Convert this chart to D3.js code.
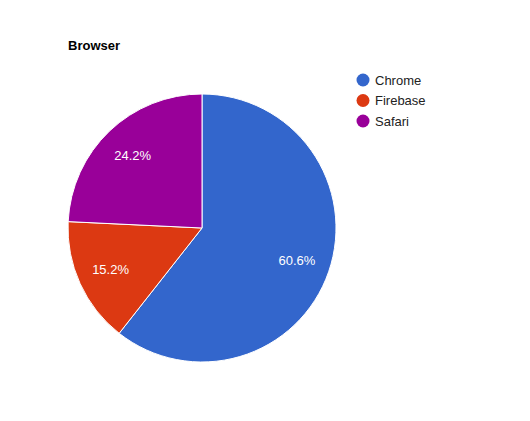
<!DOCTYPE html>
<html><head><meta charset="utf-8">
<script src="https://cdn.jsdelivr.net/npm/d3@7"></script>
<style>body{margin:0;background:#fff}svg{display:block}</style>
</head><body>
<svg id="c" width="530" height="421"></svg>
<script>
const categories = ["Chrome", "Firebase", "Safari"];
const values = [20, 5, 8];
const colors = ["#3366cc", "#dc3912", "#990099"];
const title = "Browser";

const svg = d3.select("#c");
const cx = 202, cy = 228, r = 134;
const font = "Arial, 'Liberation Sans', sans-serif";

svg.append("text").attr("x", 68).attr("y", 50)
  .attr("font-family", font).attr("font-size", 13).attr("font-weight", "bold")
  .attr("fill", "#000").text(title);

const pie = d3.pie().sort(null).value(d => d)(values);
const arc = d3.arc().innerRadius(0).outerRadius(r);
const labelArc = d3.arc().innerRadius(r * 0.75).outerRadius(r * 0.75);
const total = d3.sum(values);
const color = d3.scaleOrdinal().domain(categories).range(colors);

const g = svg.append("g").attr("transform", `translate(${cx},${cy})`);
g.selectAll("path").data(pie).join("path")
  .attr("d", arc)
  .attr("fill", (d, i) => color(categories[i]))
  .attr("stroke", "#fff").attr("stroke-width", 1);

g.selectAll("text").data(pie).join("text")
  .attr("transform", d => `translate(${labelArc.centroid(d)})`)
  .attr("text-anchor", "middle").attr("dy", "0.35em")
  .attr("font-family", font).attr("font-size", 13).attr("fill", "#fff")
  .text(d => (d.value / total * 100).toFixed(1) + "%");

const leg = svg.append("g");
categories.forEach((c, i) => {
  const y = 80 + i * 20.5;
  leg.append("circle").attr("cx", 363).attr("cy", y).attr("r", 6.5).attr("fill", color(c));
  leg.append("text").attr("x", 375).attr("y", y).attr("dy", "0.35em")
    .attr("font-family", font).attr("font-size", 13).attr("fill", "#222").text(c);
});
</script>
</body></html>
